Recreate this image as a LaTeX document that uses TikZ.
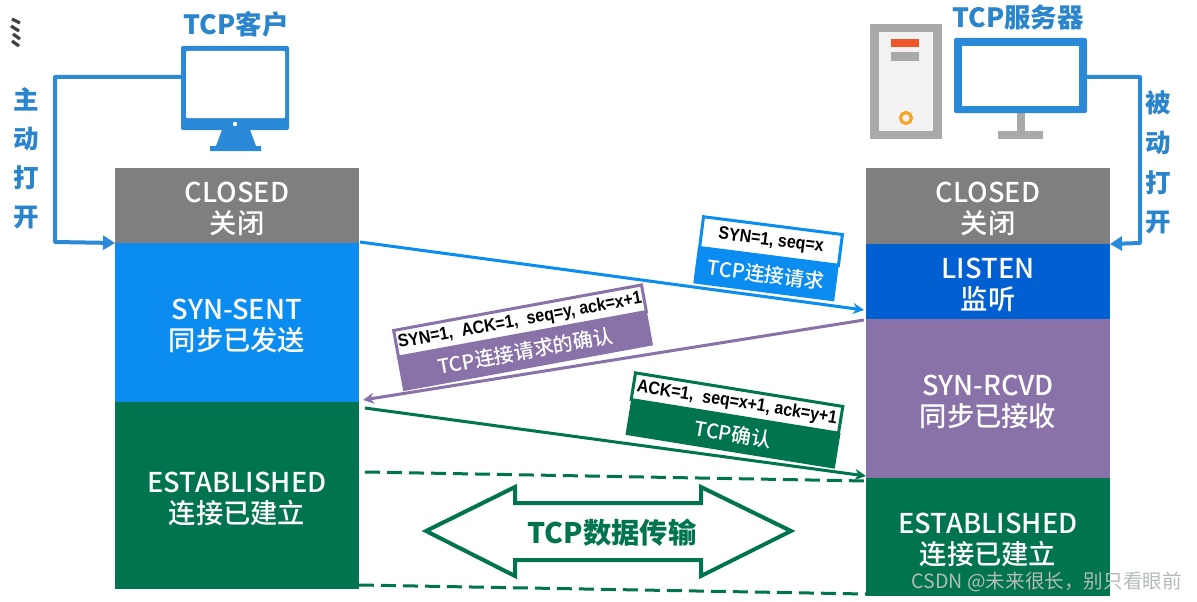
\documentclass[tikz,border=0pt]{standalone}
\usepackage{fontspec}
\setmainfont{Noto Sans CJK SC}
\newfontfamily\medcjk{Noto Sans CJK SC Medium}
\newfontfamily\tagfont[FakeStretch=0.89]{Liberation Sans Bold}
\usetikzlibrary{arrows.meta}
\definecolor{cGray}{HTML}{7F7F7F}
\definecolor{cBlue}{HTML}{0A8CF0}
\definecolor{cDeep}{HTML}{0060D2}
\definecolor{cPurple}{HTML}{8872A8}
\definecolor{cGreen}{HTML}{00744E}
\definecolor{cLine}{HTML}{2A8AD8}
\definecolor{cText}{HTML}{2A85CC}
\definecolor{cTower}{HTML}{A9A9A9}
\definecolor{cRed}{HTML}{F0562A}
\definecolor{cAmber}{HTML}{F5A623}
\definecolor{cMark}{HTML}{B4BCB8}
\tikzset{
  state/.style={anchor=north west,minimum width=244pt,inner sep=0pt,outer sep=0pt},
  stxt/.style={text=white,align=center,inner sep=0pt,yshift=-3pt,font=\medcjk\fontsize{27.3}{31}\selectfont},
  tagtop/.style={fill=white,text=black,inner sep=0pt,outer sep=0pt,font=\tagfont\fontsize{18}{20}\selectfont},
  tagbot/.style={text=white,inner sep=0pt,outer sep=0pt,font=\medcjk\fontsize{20}{22}\selectfont},
  title/.style={text=cText,font=\bfseries\fontsize{26.5}{30}\selectfont},
  vlabel/.style={text=cText,font=\bfseries\fontsize{25.5}{28}\selectfont},
  link/.style={color=cLine,line width=4pt,line join=round},
  msg/.style={line width=3pt,-{Stealth[length=11pt,width=11pt]}},
  dashline/.style={cGreen,line width=3pt,dash pattern=on 15pt off 7pt},
}
\begin{document}
\begin{tikzpicture}[x=1pt,y=-1pt]
\useasboundingbox (0,0) rectangle (1197,602);
\fill[white] (0,0) rectangle (1197,602);
% stray glyph at the upper left edge
\draw[line width=3.2pt,color=black!75] (12,19)--(20,23) (11,26)--(19,31) (13,34)--(20,39) (12,41)--(19,46);
% state columns
\node[state,fill=cGray,minimum height=75pt,label={[stxt]center:{CLOSED\\关闭}}] (lc) at (115,168) {};
\node[state,fill=cBlue,minimum height=159pt,label={[stxt]center:{SYN-SENT\\同步已发送}}] (ls) at (115,243) {};
\node[state,fill=cGreen,minimum height=187pt,label={[stxt]center:{ESTABLISHED\\连接已建立}}] (le) at (115,402) {};
\node[state,fill=cGray,minimum height=76pt,label={[stxt]center:{CLOSED\\关闭}}] (rc) at (866,168) {};
\node[state,fill=cDeep,minimum height=75pt,label={[stxt]center:{LISTEN\\监听}}] (rl) at (866,244) {};
\node[state,fill=cPurple,minimum height=159pt,label={[stxt]center:{SYN-RCVD\\同步已接收}}] (rs) at (866,319) {};
\node[state,fill=cGreen,minimum height=118pt,label={[stxt]center:{ESTABLISHED\\连接已建立}}] (re) at (866,478) {};
% titles and side labels
\node[title] (t1) at (236,24) {TCP客户};
\node[title] (t2) at (1018,17) {TCP服务器};
\node[vlabel] (a1) at (26,99) {主};
\node[vlabel] (a2) at (26,139) {动};
\node[vlabel] (a3) at (26,178) {打};
\node[vlabel] (a4) at (26,218) {开};
\node[vlabel] (b1) at (1158,103) {被};
\node[vlabel] (b2) at (1158,143) {动};
\node[vlabel] (b3) at (1158,183) {打};
\node[vlabel] (b4) at (1158,223) {开};
% client monitor
\fill[cLine,rounded corners=2pt] (181,46) rectangle (289,130);
\fill[white,rounded corners=1pt] (186,51) rectangle (285,118);
\fill[white] (235,124) circle (2.2pt);
\fill[cLine] (222,130)--(250,130)--(256,146)--(261,146)--(261,151)--(210,151)--(210,146)--(216,146)--cycle;
\coordinate (cm) at (181,77);
\draw[link,-{Triangle[length=12pt,width=14pt]}] (cm) -- (55,77) -- (55,242) -- (lc.south west);
% server tower
\fill[cTower] (870,24) rectangle (942,139);
\fill[black!5] (879,32) rectangle (933,131);
\fill[cRed] (891,39) rectangle (919,47);
\fill[cTower] (891,52) rectangle (919,61);
\draw[cAmber,line width=3.2pt] (906,118) circle (5.5pt);
% server monitor
\fill[cTower] (1017,112) rectangle (1025,131);
\fill[cTower] (998,131) rectangle (1043,139);
\fill[cLine,rounded corners=2pt] (954,38) rectangle (1087,113);
\fill[white] (962,46) rectangle (1079,106);
\coordinate (sm) at (1087,77);
\draw[link,-{Triangle[length=12pt,width=14pt]}] (sm) -- (1140,77) -- (1140,243) -- (rc.south east);
% message arrows
\coordinate (m1a) at (360,242); \coordinate (m1b) at (864,310);
\coordinate (m2a) at (864,320); \coordinate (m2b) at (363,400);
\coordinate (m3a) at (365,408); \coordinate (m3b) at (866,476);
\draw[msg,cBlue] (m1a) -- (m1b);
\draw[msg,cPurple] (m2a) -- (m2b);
\draw[msg,cGreen] (m3a) -- (m3b);
% dashed boundaries
\coordinate (d1a) at (365,472); \coordinate (d1b) at (866,481);
\coordinate (d2a) at (359,585); \coordinate (d2b) at (866,594);
\draw[dashline] (d1a) -- (d1b);
\draw[dashline] (d2a) -- (d2b);
% message tags
\node[tagbot,fill=cBlue,rotate=-7.3,minimum width=142pt,minimum height=36pt] (g1b) at (766,274.5) {TCP连接请求};
\node[tagtop,draw=cBlue,line width=3pt,rotate=-7.3,minimum width=140pt,minimum height=31pt] (g1t) at (771,241) {SYN=1, seq=x};
\node[tagbot,fill=cPurple,rotate=10.4,minimum width=254pt,minimum height=35pt] (g2b) at (525,351) {TCP连接请求的确认};
\node[tagtop,draw=cPurple,line width=3pt,rotate=10.4,minimum width=252pt,minimum height=27pt] (g2t) at (520,321) {SYN=1,\ \ ACK=1,\ \ seq=y, ack=x+1};
\node[tagbot,fill=cGreen,rotate=-9.2,minimum width=212pt,minimum height=36pt] (g3b) at (733,434) {TCP确认};
\node[tagtop,draw=cGreen,line width=3pt,rotate=-9.2,minimum width=210pt,minimum height=27pt] (g3t) at (737,403) {ACK=1,\ \ seq=x+1, ack=y+1};
% data transfer double arrow
\draw[cGreen,line width=4pt,line join=miter] (426,531) -- (515,487) -- (515,503) -- (701,503) -- (701,487) -- (791,531) -- (701,576) -- (701,560) -- (515,560) -- (515,576) -- cycle;
\node[text=cGreen,font=\bfseries\fontsize{28.3}{30}\selectfont] (dt) at (612,533) {TCP数据传输};
% watermark
\node[text=cMark,anchor=east,inner sep=0pt,font=\fontsize{19.6}{22}\selectfont] (wm) at (1182,582) {CSDN @未来很长，别只看眼前};
\end{tikzpicture}
\end{document}
